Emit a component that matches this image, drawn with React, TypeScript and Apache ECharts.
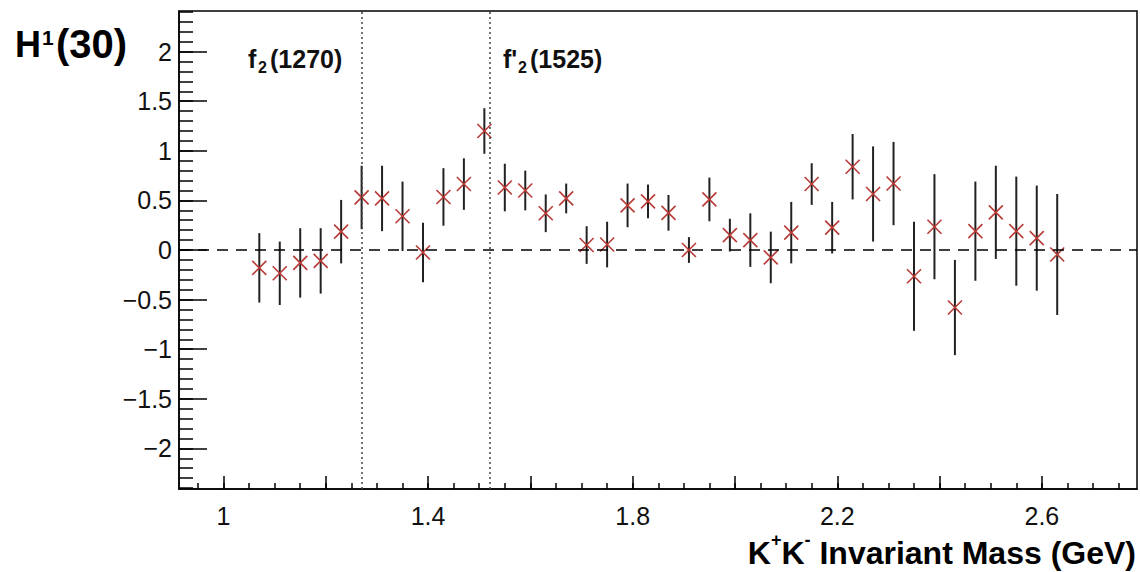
import React, { useEffect, useRef } from "react";
import * as echarts from "echarts";

// ---- data ----
const massBins = [
  1.07, 1.11, 1.15, 1.19, 1.23, 1.27, 1.31, 1.35, 1.39, 1.43,
  1.47, 1.51, 1.55, 1.59, 1.63, 1.67, 1.71, 1.75, 1.79, 1.83,
  1.87, 1.91, 1.95, 1.99, 2.03, 2.07, 2.11, 2.15, 2.19, 2.23,
  2.27, 2.31, 2.35, 2.39, 2.43, 2.47, 2.51, 2.55, 2.59, 2.63,
];
const h1Values = [
  -0.18, -0.235, -0.13, -0.11, 0.185, 0.53, 0.52, 0.34, -0.025, 0.535,
  0.665, 1.2, 0.63, 0.6, 0.37, 0.52, 0.05, 0.055, 0.45, 0.49,
  0.375, 0.0, 0.51, 0.15, 0.1, -0.075, 0.175, 0.665, 0.225, 0.84,
  0.565, 0.67, -0.265, 0.235, -0.58, 0.19, 0.38, 0.19, 0.12, -0.045,
];
const h1Errors = [
  0.35, 0.32, 0.35, 0.33, 0.32, 0.32, 0.33, 0.35, 0.3, 0.29,
  0.26, 0.23, 0.24, 0.2, 0.19, 0.15, 0.19, 0.23, 0.22, 0.17,
  0.18, 0.13, 0.22, 0.165, 0.27, 0.26, 0.31, 0.21, 0.26, 0.33,
  0.48, 0.42, 0.55, 0.53, 0.48, 0.5, 0.47, 0.55, 0.53, 0.61,
];
const resonanceMasses = [1.275, 1.516];

const xMajorTicks = [1.0, 1.2, 1.4, 1.6, 1.8, 2.0, 2.2, 2.4, 2.6];
const xTickLabels = [1.0, 1.4, 1.8, 2.2, 2.6];
const yMajorTicks = [-2, -1.5, -1, -0.5, 0, 0.5, 1, 1.5, 2];

const X_MIN = 0.913;
const X_MAX = 2.786;
const Y_MIN = -2.41;
const Y_MAX = 2.41;

const xMinorTicks: number[] = [];
for (let i = 19; i <= 55; i++) xMinorTicks.push(+(i * 0.05).toFixed(2));
const yMinorTicks: number[] = [];
for (let i = -24; i <= 24; i++) yMinorTicks.push(+(i * 0.1).toFixed(1));

const FONT = "'Liberation Sans', Arial, Helvetica, sans-serif";

export default function App() {
  const ref = useRef<HTMLDivElement>(null);
  useEffect(() => {
    if (!ref.current) return;
    const chart = echarts.init(ref.current, undefined, { renderer: "svg" });
    const points = massBins.map((x, i) => [x, h1Values[i], h1Errors[i]]);
    const fmt = (v: number) => String(+v.toFixed(2)).replace("-", "\u2212");
    const grid = { left: 179, top: 11, right: 3, bottom: 83 };

    chart.setOption({
      animation: false,
      backgroundColor: "#ffffff",
      grid: { ...grid, show: true, borderColor: "#000", borderWidth: 1.5, backgroundColor: "transparent" },
      xAxis: [
        {
          type: "value", min: X_MIN, max: X_MAX, position: "bottom",
          axisLine: { show: true, onZero: false, lineStyle: { color: "#000", width: 1.5 } },
          axisTick: { show: true, inside: true, length: 13, customValues: xMajorTicks, lineStyle: { color: "#000", width: 1.5 } },
          axisLabel: { show: true, customValues: xTickLabels, formatter: fmt, color: "#111", fontFamily: FONT, fontSize: 25, margin: 14 },
          splitLine: { show: false },
        },
        {
          type: "value", min: X_MIN, max: X_MAX, position: "bottom",
          axisLine: { show: false, onZero: false },
          axisTick: { show: true, inside: true, length: 6, customValues: xMinorTicks, lineStyle: { color: "#000", width: 1.5 } },
          axisLabel: { show: false },
          splitLine: { show: false },
        },
      ],
      yAxis: [
        {
          type: "value", min: Y_MIN, max: Y_MAX, position: "left",
          axisLine: { show: true, onZero: false, lineStyle: { color: "#000", width: 1.5 } },
          axisTick: { show: true, inside: true, length: 28, customValues: yMajorTicks, lineStyle: { color: "#000", width: 1.5 } },
          axisLabel: { show: true, customValues: yMajorTicks, formatter: fmt, color: "#111", fontFamily: FONT, fontSize: 25, margin: 7 },
          splitLine: { show: false },
        },
        {
          type: "value", min: Y_MIN, max: Y_MAX, position: "left",
          axisLine: { show: false, onZero: false },
          axisTick: { show: true, inside: true, length: 14, customValues: yMinorTicks, lineStyle: { color: "#000", width: 1.5 } },
          axisLabel: { show: false },
          splitLine: { show: false },
        },
      ],
      series: [
        {
          type: "scatter",
          data: [],
          markLine: {
            silent: true,
            symbol: "none",
            label: { show: false },
            data: [
              { yAxis: 0, lineStyle: { type: [11, 8], color: "#000", width: 1.6 } },
              ...resonanceMasses.map((m) => ({ xAxis: m, lineStyle: { type: [2, 3], color: "#444", width: 1.5 } })),
            ],
          },
        },
        {
          type: "custom",
          data: points,
          renderItem: (_p: any, api: any) => {
            const x = api.value(0), y = api.value(1), e = api.value(2);
            const c = api.coord([x, y]);
            const t = api.coord([x, y + e]);
            const b = api.coord([x, y - e]);
            const s = 7;
            return {
              type: "group",
              children: [
                { type: "line", shape: { x1: c[0], y1: t[1], x2: c[0], y2: b[1] }, style: { stroke: "#222", lineWidth: 2 } },
                { type: "line", shape: { x1: c[0] - s, y1: c[1] - s, x2: c[0] + s, y2: c[1] + s }, style: { stroke: "#b83a36", lineWidth: 1.6 } },
                { type: "line", shape: { x1: c[0] - s, y1: c[1] + s, x2: c[0] + s, y2: c[1] - s }, style: { stroke: "#b83a36", lineWidth: 1.6 } },
              ],
            };
          },
        },
      ],
      graphic: [
        { type: "text", x: 15, y: 44, style: { text: "H", font: `bold 36px ${FONT}`, fill: "#000", verticalAlign: "middle" } },
        { type: "text", x: 42, y: 37, style: { text: "1", font: `bold 21px ${FONT}`, fill: "#000", verticalAlign: "middle" } },
        { type: "text", x: 56, y: 44, style: { text: "(30)", font: `bold 40px ${FONT}`, fill: "#000", verticalAlign: "middle" } },

        { type: "text", x: 248, y: 59, style: { text: "f", font: `bold 25px ${FONT}`, fill: "#111", verticalAlign: "middle" } },
        { type: "text", x: 258, y: 67, style: { text: "2", font: `bold 16px ${FONT}`, fill: "#111", verticalAlign: "middle" } },
        { type: "text", x: 270, y: 59, style: { text: "(1270)", font: `bold 25px ${FONT}`, fill: "#111", verticalAlign: "middle" } },

        { type: "text", x: 503, y: 59, style: { text: "f'", font: `bold 25px ${FONT}`, fill: "#111", verticalAlign: "middle" } },
        { type: "text", x: 518, y: 67, style: { text: "2", font: `bold 16px ${FONT}`, fill: "#111", verticalAlign: "middle" } },
        { type: "text", x: 530, y: 59, style: { text: "(1525)", font: `bold 25px ${FONT}`, fill: "#111", verticalAlign: "middle" } },

        {
          type: "text", right: 4, top: 531,
          style: {
            text: "{b|K}{s|+}{b|K}{s|-}{b| Invariant Mass (GeV)}",
            rich: {
              b: { font: `bold 32px ${FONT}`, fill: "#000", verticalAlign: "bottom", lineHeight: 38 },
              s: { font: `bold 18px ${FONT}`, fill: "#000", verticalAlign: "top", lineHeight: 38, padding: [0, 0, 14, 0] },
            },
          },
        },
      ],
    });
    return () => chart.dispose();
  }, []);
  return <div ref={ref} style={{ position: "fixed", left: 0, top: 0, width: 1140, height: 572 }} />;
}
